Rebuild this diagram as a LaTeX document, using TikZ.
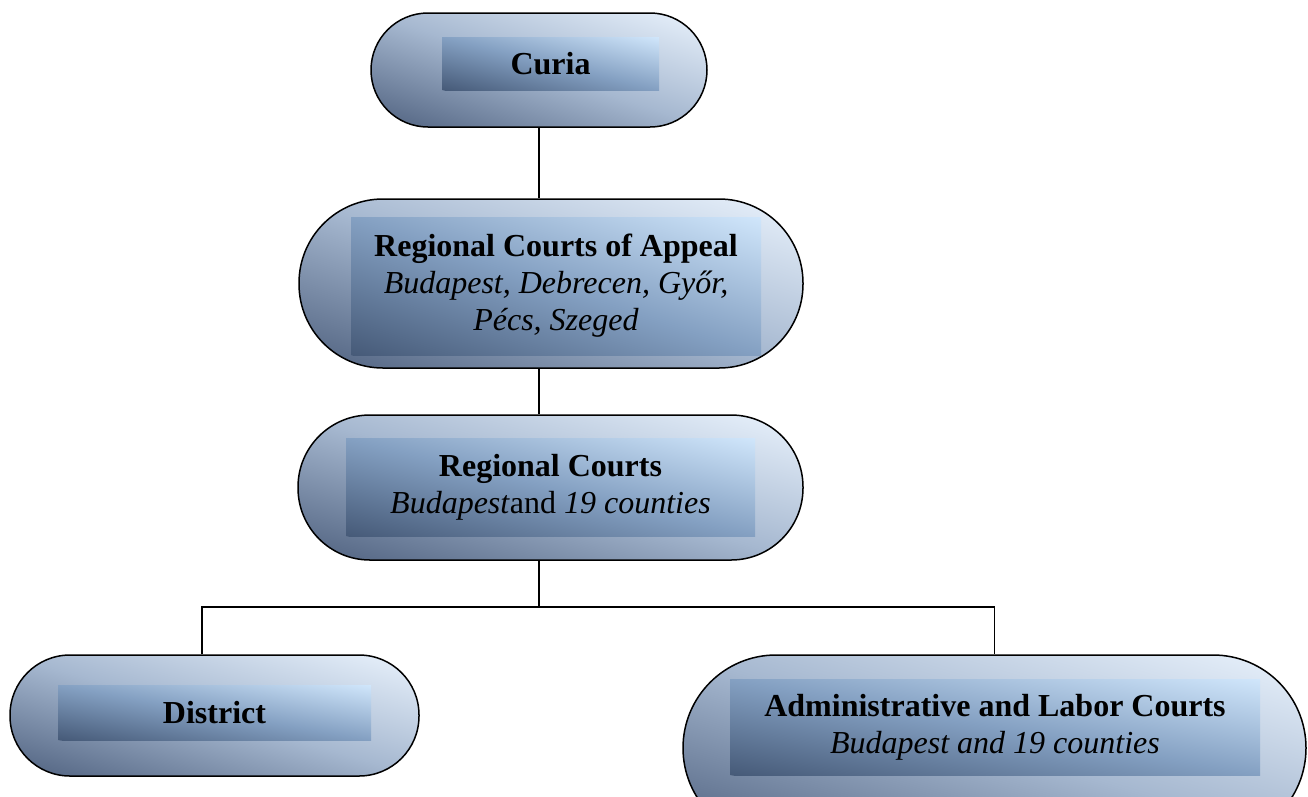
\documentclass[tikz,border=0pt]{standalone}
\usepackage{fontspec}
\setmainfont{Liberation Serif}
\usetikzlibrary{calc}

\definecolor{outerdark}{RGB}{78,96,126}
\definecolor{outermid}{RGB}{166,184,208}
\definecolor{outerlight}{RGB}{234,243,253}
\definecolor{innerdark}{RGB}{70,90,120}
\definecolor{innermid}{RGB}{132,160,194}
\definecolor{innerlight}{RGB}{208,230,251}

\newcommand\courtshade[3]{%
    \pgfpointdiff{\pgfpointanchor{path picture bounding box}{south west}}%
                 {\pgfpointanchor{path picture bounding box}{north east}}%
    \pgfgetlastxy{\shadew}{\shadeh}%
    \pgfmathsetmacro\shadetilt{atan2(\shadeh,\shadew)}%
    \pgfmathsetmacro\shadelen{veclen(\shadew,\shadeh)}%
    \pgfmathsetmacro\shadedepth{\shadeh*cos(\shadetilt)}%
    \shade[transform canvas={rotate around={-\shadetilt:(path picture bounding box.center)}},
           bottom color=#1, top color=#3, middle color=#2]
        ([shift={(-\shadelen pt,-\shadedepth pt)}]path picture bounding box.center) rectangle
        ([shift={(\shadelen pt,\shadedepth pt)}]path picture bounding box.center);}

\tikzset{
    court/.style={draw=black, line width=1.5pt, rounded corners=#1, inner sep=0pt, fill=outermid,
        path picture={\courtshade{outerdark}{outermid}{outerlight}}},
    panel/.style={inner sep=0pt, fill=innermid, align=center, font=\fontsize{32pt}{37pt}\selectfont,
        path picture={\courtshade{innerdark}{innermid}{innerlight}}},
    link/.style={line width=1.5pt}
}

\begin{document}
\begin{tikzpicture}[x=1pt,y=-1pt]
                \useasboundingbox (0,0) rectangle (1308,796);

                \node[court=57pt, minimum width=336pt, minimum height=114pt] (curia) at (539,70) {};
                \node[court=84pt, minimum width=504pt, minimum height=169pt] (appeal) at (551,283.5) {};
                \node[court=72pt, minimum width=505pt, minimum height=145pt] (regional) at (550.5,487.5) {};
                \node[court=60pt, minimum width=409pt, minimum height=121pt] (district) at (214.5,715.5) {};
                \node[court=93pt, minimum width=623pt, minimum height=186pt] (labor) at (994.5,748) {};

                \node[panel, minimum width=217pt, minimum height=53pt] (curiatext) at (550.5,63.5)
                    {\textbf{Curia}};
                \node[panel, minimum width=410pt, minimum height=138pt] (appealtext) at (556,286)
                    {\textbf{Regional Courts of Appeal}\\ \textit{Budapest, Debrecen, Győr,}\\ \textit{Pécs, Szeged}};
                \node[panel, minimum width=409pt, minimum height=98pt] (regionaltext) at (550.5,487)
                    {\textbf{Regional Courts}\\ \textit{Budapest}and \textit{19 counties}};
                \node[panel, minimum width=313pt, minimum height=55pt] (districttext) at (214.5,712.5)
                    {\textbf{District}};
                \node[panel, minimum width=530pt, minimum height=96pt] (labortext) at (995,727)
                    {\textbf{Administrative and Labor Courts}\\ \textit{Budapest and 19 counties}};

                \coordinate (forkL) at (202,607);
                \coordinate (forkR) at (labor.north |- forkL);

                \draw[link] (curia.south) -- (curia.south |- appeal.north);
                \draw[link] (curia.south |- appeal.south) -- (curia.south |- regional.north);
                \draw[link] (curia.south |- regional.south) -- (curia.south |- forkL);
                \draw[link] (forkL |- district.north) -- (forkL) -- (forkR) -- (labor.north);
\end{tikzpicture}
\end{document}
